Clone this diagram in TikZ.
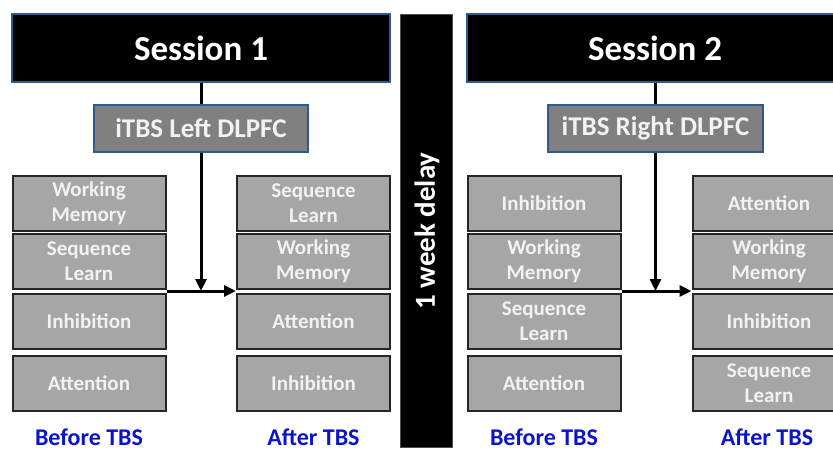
\documentclass[tikz,border=0pt]{standalone}
\usepackage{fontspec}
\setmainfont{Carlito}
\usetikzlibrary{arrows.meta,calc}
\definecolor{sessblue}{RGB}{46,92,138}
\definecolor{boxgray}{RGB}{166,166,166}
\definecolor{tbsgray}{RGB}{128,128,128}
\definecolor{lblblue}{RGB}{10,20,200}
\definecolor{txtwhite}{RGB}{242,242,242}
\tikzset{
  session/.style={draw=sessblue,line width=1.8pt,fill=black,text=white,minimum width=378pt,minimum height=68pt,inner sep=0pt,font=\bfseries\fontsize{35}{40}\selectfont},
  tbsbox/.style={draw=sessblue,line width=1.8pt,fill=tbsgray,text=txtwhite,minimum height=47pt,inner sep=0pt,font=\bfseries\fontsize{27}{32}\selectfont},
  taskbox/.style={draw=black!85,line width=2pt,fill=boxgray,text=txtwhite,minimum width=153pt,minimum height=55pt,inner sep=0pt,align=center,font=\bfseries\fontsize{21}{25}\selectfont},
  lbl/.style={text=lblblue,font=\bfseries\fontsize{24}{28}\selectfont,inner sep=0pt,anchor=base},
  conn/.style={line width=3pt,black},
  arr/.style={conn,-{Triangle[length=12pt,width=11pt]}},
  delaybar/.style={fill=black,draw=black!70,line width=0.6pt,minimum width=52pt,minimum height=433pt,inner sep=0pt}
}
\begin{document}
\begin{tikzpicture}[x=1pt,y=-1pt]
\useasboundingbox (0,0) rectangle (833,450);
\begin{scope}
\clip (0,0) rectangle (833,450);
% delay bar
\node[delaybar] (delay) at (426,230.5) {};
\node[rotate=90,text=white,font=\bfseries\fontsize{29}{32}\selectfont,inner sep=0pt] (delaytxt) at (427,231) {1 week delay};
% session 1
\node[session] (s1) at (201,48) {Session 1};
\node[tbsbox,minimum width=214pt] (t1) at (201,128.5) {iTBS Left DLPFC};
\node[taskbox] (b1a) at (89,203) {Working\\Memory};
\node[taskbox] (b1b) at (89,261) {Sequence\\Learn};
\node[taskbox] (b1c) at (89,321) {Inhibition};
\node[taskbox] (b1d) at (89,383) {Attention};
\node[taskbox] (a1a) at (313.5,203) {Sequence\\Learn};
\node[taskbox] (a1b) at (313.5,261) {Working\\Memory};
\node[taskbox] (a1c) at (313.5,321) {Attention};
\node[taskbox] (a1d) at (313.5,383) {Inhibition};
\node[lbl] (lb1) at (89,445) {Before TBS};
\node[lbl] (la1) at (313.5,445) {After TBS};
\draw[conn] (s1.south) -- (t1.north);
\coordinate (j1) at ($(b1b.south east)!0.5!(b1c.north east)$);
\coordinate (k1) at ($(a1b.south west)!0.5!(a1c.north west)$);
\draw[arr] (t1.south) -- (t1.south |- j1);
\draw[arr] (j1) -- (k1);
% session 2
\node[session] (s2) at (656,48) {};
\node[text=white,font=\bfseries\fontsize{35}{40}\selectfont,inner sep=0pt] (s2t) at (655,48) {Session 2};
\node[tbsbox,minimum width=215pt] (t2) at (655.5,128.5) {iTBS Right DLPFC};
\node[taskbox] (b2a) at (544,203) {Inhibition};
\node[taskbox] (b2b) at (544,261) {Working\\Memory};
\node[taskbox] (b2c) at (544,321) {Sequence\\Learn};
\node[taskbox] (b2d) at (544,383) {Attention};
\node[taskbox] (a2a) at (769,203) {Attention};
\node[taskbox] (a2b) at (769,261) {Working\\Memory};
\node[taskbox] (a2c) at (769,321) {Inhibition};
\node[taskbox] (a2d) at (769,383) {Sequence\\Learn};
\node[lbl] (lb2) at (544,445) {Before TBS};
\node[lbl] (la2) at (767,445) {After TBS};
\draw[conn] (s2.south -| t2.north) -- (t2.north);
\coordinate (j2) at ($(b2b.south east)!0.5!(b2c.north east)$);
\coordinate (k2) at ($(a2b.south west)!0.5!(a2c.north west)$);
\draw[arr] (t2.south) -- (t2.south |- j2);
\draw[arr] (j2) -- (k2);
\end{scope}
\end{tikzpicture}
\end{document}
